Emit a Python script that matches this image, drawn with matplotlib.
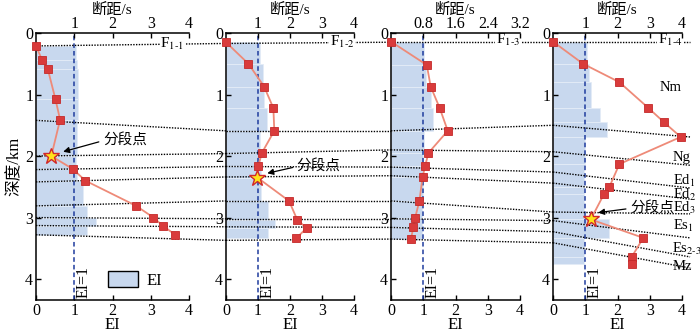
import matplotlib.pyplot as plt
import numpy as np
from matplotlib.patches import Patch

plt.rcParams['font.family'] = ['Liberation Serif', 'Noto Sans CJK SC']
plt.rcParams['mathtext.fontset'] = 'stix'
plt.rcParams['axes.unicode_minus'] = False

# ---- data ----
# well F1-1
d1 = [0.21, 0.44, 0.59, 1.08, 1.41, 2.00, 2.21, 2.40, 2.81, 3.00, 3.13, 3.28]
ei1 = [0.0, 0.16, 0.31, 0.51, 0.63, 0.40, 0.96, 1.29, 2.62, 3.07, 3.31, 3.64]
bar1 = [1.05, 1.08, 1.11, 1.11, 1.06, 1.05, 1.08, 1.24, 1.34, 1.56, 1.34]
# well F1-2
d2 = [0.15, 0.50, 0.87, 1.22, 1.59, 1.95, 2.16, 2.35, 2.73, 3.04, 3.17, 3.34]
ei2 = [0.0, 0.70, 1.19, 1.48, 1.51, 1.12, 1.01, 0.98, 1.97, 2.23, 2.52, 2.19]
bar2 = [1.06, 1.15, 1.19, 1.29, 1.06, 1.05, 1.09, 1.09, 1.32, 1.53, 1.32]
# well F1-3
d3 = [0.14, 0.52, 0.87, 1.22, 1.59, 1.95, 2.16, 2.34, 2.73, 3.00, 3.16, 3.35]
ei3 = [0.0, 1.11, 1.23, 1.51, 1.76, 1.16, 1.06, 0.98, 0.88, 0.75, 0.69, 0.62]
bar3 = [1.03, 1.08, 1.24, 1.29, 1.03, 1.00, 0.98, 0.98, 0.97, 0.96, 0.95]
# well F1-4
d4 = [0.14, 0.50, 0.80, 1.22, 1.45, 1.69, 2.13, 2.50, 2.61, 3.03, 3.33, 3.64, 3.76]
ei4 = [0.0, 0.93, 2.06, 2.96, 3.44, 3.96, 2.06, 1.75, 1.59, 1.17, 2.80, 2.44, 2.44]
bar4 = [1.06, 1.13, 1.17, 1.46, 1.68, 0.98, 0.96, 0.96, 0.96, 1.75, 0.97, 0.97]

depths = [d1, d2, d3, d4]
eis = [ei1, ei2, ei3, ei4]
bars = [bar1, bar2, bar3, bar4]
star_idx = [5, 7, None, 9]
fault_names = [r'F$_{\text{1-1}}$', r'F$_{\text{1-2}}$', r'F$_{\text{1-3}}$', r'F$_{\text{1-4}}$']
top_scale = [1.0, 1.0, 0.8, 1.0]
top_ticklabels = [['1', '2', '3', '4'], ['1', '2', '3', '4'],
                  ['0.8', '1.6', '2.4', '3.2'], ['1', '2', '3', '4']]

# correlation horizons: depth at each well (left axis) and at right end of last panel
horizons = [
    [0.21, 0.17, 0.15, 0.15, 0.15],
    [1.42, 1.59, 1.59, 1.50, 1.69],
    [2.00, 1.96, 1.90, 1.93, 2.15],
    [2.22, 2.17, 2.18, 2.26, 2.52],
    [2.42, 2.34, 2.32, 2.44, 2.70],
    [2.81, 2.73, 2.73, 2.91, 2.94],
    [3.00, 3.02, 3.02, 3.05, 3.33],
    [3.13, 3.15, 3.16, 3.23, 3.64],
    [3.28, 3.37, 3.35, 3.41, 3.82],
]
strata = ['Nm', 'Ng', 'Ed$_1$', 'Ed$_2$', 'Ed$_3$', 'Es$_1$', r'Es$_{\text{2-3}}$', 'Mz']
strata_depth = [0.89, 2.02, 2.41, 2.63, 2.85, 3.14, 3.51, 3.79]
strata_x = [3.3, 3.72, 3.72, 3.72, 3.72, 3.72, 3.68, 3.72]

# segment-point annotations (target, text position)
seg_ann = {0: ((0.71, 1.93), (1.75, 1.74)),
           1: ((1.29, 2.28), (2.21, 2.16)),
           3: ((1.40, 2.92), (2.39, 2.84))}

blue = '#c8d8ee'
red = '#d93b3b'
salmon = '#ee8a78'
dash_blue = '#1f3c9e'

W, H = 700, 333
fig = plt.figure(figsize=(W / 100, H / 100), dpi=100)
left_px = [36, 226, 391, 553]
width_px = [153, 128, 129, 129]
top_px, bot_px = 33, 300

axes = []
for i in range(4):
    ax = fig.add_axes([left_px[i] / W, 1 - bot_px / H, width_px[i] / W, (bot_px - top_px) / H])
    ax.set_facecolor('none')
    d = np.array(depths[i])
    ax.barh(d[:-1], bars[i], height=np.diff(d), align='edge', color=blue,
            edgecolor='#e4ecf7', linewidth=0.6, zorder=1)
    ax.axvline(1, color=dash_blue, ls=(0, (3, 2)), lw=1.1, zorder=2)
    ax.plot(eis[i], d, color=salmon, lw=1.3, zorder=3, clip_on=False)
    mask = np.ones(len(d), bool)
    if star_idx[i] is not None:
        mask[star_idx[i]] = False
    ax.plot(np.array(eis[i])[mask], d[mask], 's', ms=6, mfc=red, mec='#c42a2a',
            mew=0.6, zorder=4, clip_on=False)
    if star_idx[i] is not None:
        s = star_idx[i]
        ax.plot(eis[i][s], d[s], '*', ms=12, mfc='#ffe21a', mec='#d0282b', mew=1.0, zorder=5)

    ax.set_xlim(0, 4)
    ax.set_ylim(4.34, 0)
    ax.set_xticks([0, 1, 2, 3, 4])
    ax.set_yticks([0, 1, 2, 3, 4])
    ax.tick_params(direction='in', length=3.5, width=1, labelsize=11.5, pad=2)
    ax.spines['right'].set_visible(False)
    ax.spines['top'].set_visible(False)
    for sp in ['left', 'bottom']:
        ax.spines[sp].set_linewidth(1.1)
    ax.set_xlabel('EI', fontsize=12, labelpad=-1)

    # top axis: fault throw
    k = top_scale[i]
    top = ax.twiny()
    top.set_xlim(0, 4 * k)
    top.set_xticks([k * t for t in [1, 2, 3, 4]])
    top.set_xticklabels(top_ticklabels[i])
    top.tick_params(direction='in', length=3.5, width=1, labelsize=11.5, pad=1)
    for sp in ['right', 'left', 'bottom']:
        top.spines[sp].set_visible(False)
    top.spines['top'].set_linewidth(1.1)
    top.set_xlabel('断距/s', fontsize=11, labelpad=1)

    ax.text(1.04, 4.05, 'EI=1', rotation=90, ha='left', va='center', fontsize=11.5)
    ax.text(3.25, horizons[0][i] - 0.03, fault_names[i], ha='left', va='center', fontsize=11,
            zorder=6, bbox=dict(facecolor='white', edgecolor='none', pad=0.5))

    if i in seg_ann:
        xy, xyt = seg_ann[i]
        ax.annotate('分段点', xy=xy, xytext=xyt, ha='left', va='center', fontsize=10.5,
                    zorder=6,
                    arrowprops=dict(arrowstyle='-|>', color='black', lw=0.9,
                                    mutation_scale=9, shrinkA=1, shrinkB=0,
                                    relpos=(0, 0.45)))
    axes.append(ax)

axes[0].set_ylabel('深度/km', fontsize=12, labelpad=2)
axes[0].legend(handles=[Patch(facecolor=blue, edgecolor='black', lw=1)], labels=['EI'],
               loc='center', bbox_to_anchor=(0.645, 0.075), frameon=False, fontsize=12,
               handlelength=1.8, handleheight=1.1, handletextpad=0.5)

for lab, yd, xd in zip(strata, strata_depth, strata_x):
    axes[3].text(xd, yd, lab, ha='left', va='center', fontsize=10.5, zorder=6, clip_on=False)

# correlation lines between the wells
to_fig = fig.transFigure.inverted()
for h in horizons:
    for i in range(4):
        p0 = to_fig.transform(axes[i].transData.transform((0, h[i])))
        if i < 3:
            p1 = to_fig.transform(axes[i + 1].transData.transform((0, h[i + 1])))
        else:
            p1 = to_fig.transform(axes[3].transData.transform((4.25, h[4])))
        axes[i].plot([p0[0], p1[0]], [p0[1], p1[1]], transform=fig.transFigure,
                     color='black', ls=(0, (1, 1)), lw=1.0, zorder=2.5, clip_on=False)

fig.savefig('out.png', dpi=100)
